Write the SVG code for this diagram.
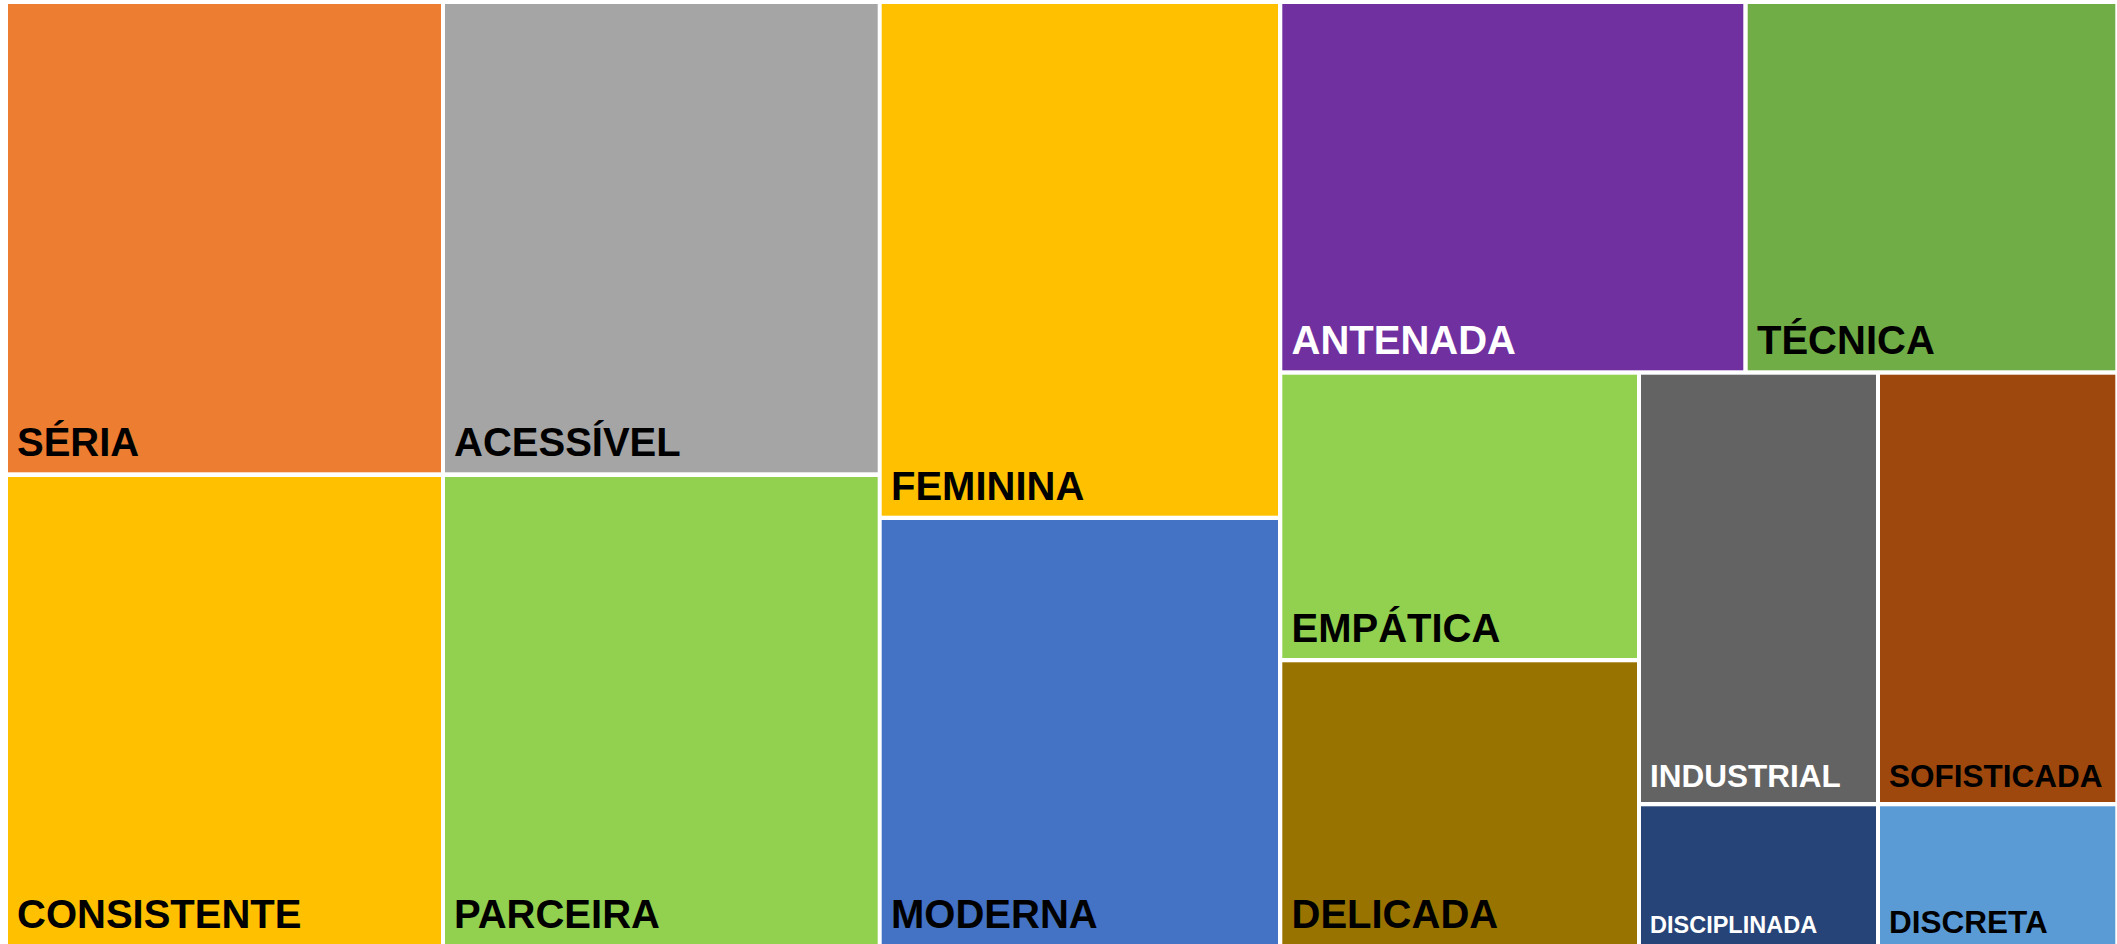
<svg xmlns="http://www.w3.org/2000/svg" width="2117" height="944" viewBox="0 0 2117 944">
<style>
  text { font-family: "Liberation Sans", Arial, sans-serif; font-weight: bold; }
  .big { font-size: 40px; }
  .mid { font-size: 31.5px; }
  .sm { font-size: 23.5px; }
  .dk { fill: #000000; }
  .wt { fill: #FFFFFF; }
</style>
<rect x="0" y="0" width="2117" height="944" fill="#FFFFFF"/>
<g id="seria"><rect x="8" y="4" width="433" height="468.3" fill="#ED7D31"/><text class="big dk" x="17" y="456">SÉRIA</text></g>
<g id="consistente"><rect x="8" y="477" width="433" height="467" fill="#FFC000"/><text class="big dk" x="17" y="928">CONSISTENTE</text></g>
<g id="acessivel"><rect x="445" y="4" width="432.7" height="468.3" fill="#A5A5A5"/><text class="big dk" x="454" y="456">ACESSÍVEL</text></g>
<g id="parceira"><rect x="445" y="477" width="432.7" height="467" fill="#92D050"/><text class="big dk" x="454" y="928">PARCEIRA</text></g>
<g id="feminina"><rect x="881.7" y="4" width="396.3" height="511.7" fill="#FFC000"/><text class="big dk" x="891" y="499.5">FEMININA</text></g>
<g id="moderna"><rect x="881.7" y="520" width="396.3" height="424" fill="#4472C4"/><text class="big dk" x="891" y="928">MODERNA</text></g>
<g id="antenada"><rect x="1282.3" y="4" width="461" height="366.3" fill="#7030A0"/><text class="big wt" x="1291.5" y="354">ANTENADA</text></g>
<g id="tecnica"><rect x="1747.7" y="4" width="367.6" height="366.3" fill="#70AD47"/><text class="big dk" x="1757" y="354">TÉCNICA</text></g>
<g id="empatica"><rect x="1282.3" y="374.7" width="354.7" height="283.3" fill="#92D050"/><text class="big dk" x="1291.5" y="642">EMPÁTICA</text></g>
<g id="delicada"><rect x="1282.3" y="662.3" width="354.7" height="281.7" fill="#997300"/><text class="big dk" x="1291.5" y="928">DELICADA</text></g>
<g id="industrial"><rect x="1641" y="374.7" width="235" height="427.3" fill="#636363"/><text class="mid wt" x="1650" y="787">INDUSTRIAL</text></g>
<g id="sofisticada"><rect x="1880" y="374.7" width="235.3" height="427.3" fill="#9E480E"/><text class="mid dk" x="1889" y="787">SOFISTICADA</text></g>
<g id="disciplinada"><rect x="1641" y="806.3" width="235" height="137.7" fill="#264478"/><text class="sm wt" x="1650" y="932.5">DISCIPLINADA</text></g>
<g id="discreta"><rect x="1880" y="806.3" width="235.3" height="137.7" fill="#5B9BD5"/><text class="mid dk" x="1889" y="932.5">DISCRETA</text></g>
<g id="connectors"></g>
</svg>
